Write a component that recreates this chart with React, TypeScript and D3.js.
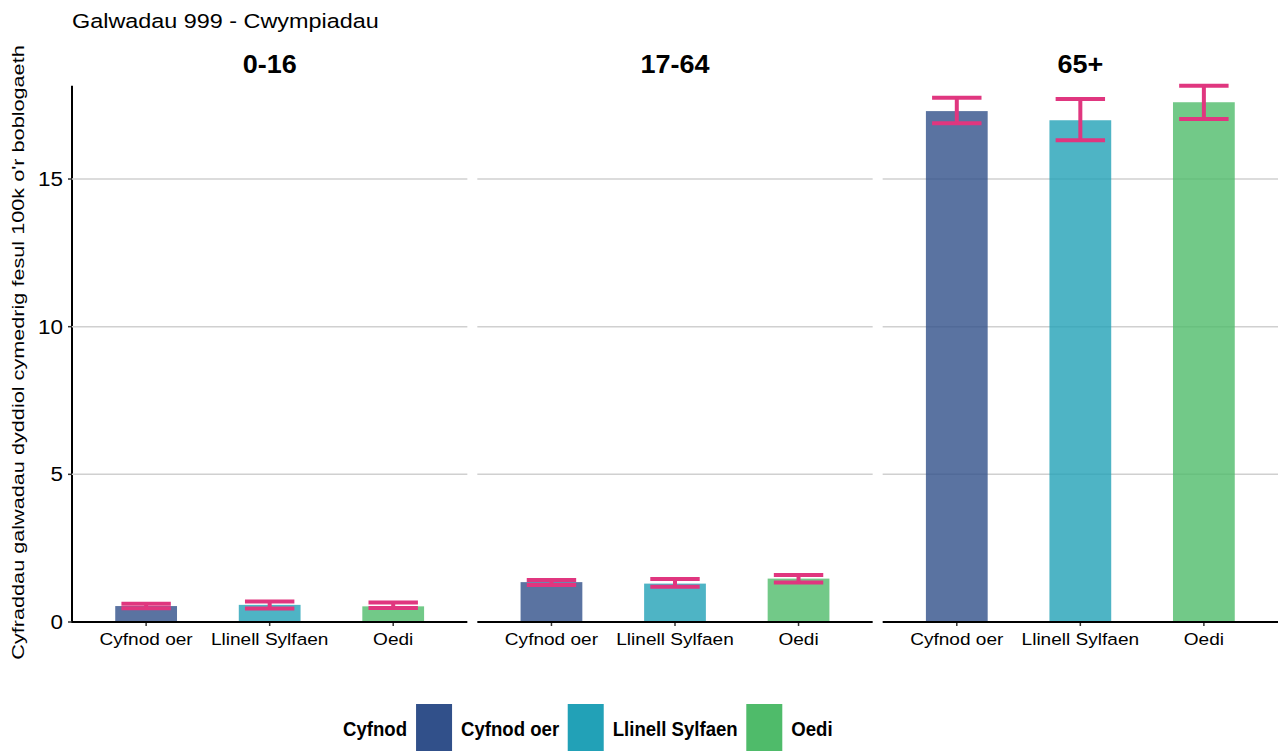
import * as d3 from "d3";

const ageGroups = ["0-16", "17-64", "65+"];
const periods = ["Cyfnod oer", "Llinell Sylfaen", "Oedi"];
const periodColors = ["#31508A", "#22A1B7", "#4FBB6A"];

// mean daily rate per 100k, one row per age group, columns follow `periods`
const meanRates = [
  [0.54, 0.58, 0.53],
  [1.35, 1.3, 1.47],
  [17.3, 16.99, 17.6],
];
const lowerCI = [
  [0.465, 0.46, 0.47],
  [1.25, 1.19, 1.34],
  [16.89, 16.31, 17.03],
];
const upperCI = [
  [0.62, 0.69, 0.66],
  [1.42, 1.46, 1.59],
  [17.75, 17.71, 18.16],
];
const yTicks = [0, 5, 10, 15];

const W = 1279;
const H = 751;
const FONT = "'Liberation Sans', Arial, Helvetica, sans-serif";
const panelLeft = 72;
const panelRight = 1278;
const panelGap = 10;
const plotTop = 85.7;
const plotBottom = 622;
const errColor = "#E0367F";

function SText({
  x,
  y,
  sx = 1,
  rotate = 0,
  size,
  weight = "normal",
  anchor = "start",
  children,
}: {
  x: number;
  y: number;
  sx?: number;
  rotate?: number;
  size: number;
  weight?: string;
  anchor?: string;
  children: any;
}) {
  return (
    <text
      transform={`translate(${x},${y}) rotate(${rotate}) scale(${sx},1)`}
      fontSize={size}
      fontWeight={weight}
      textAnchor={anchor}
      fontFamily={FONT}
      fill="#000"
    >
      {children}
    </text>
  );
}

function measure(text: string, font: string) {
  const c = document.createElement("canvas").getContext("2d");
  if (!c) return text.length * 10;
  c.font = font;
  return c.measureText(text).width;
}

export default function App() {
  const y = d3
    .scaleLinear()
    .domain([0, d3.max(upperCI.flat())!])
    .range([plotBottom, plotTop]);

  const step = (panelRight - panelLeft + panelGap) / 3;
  const panelX = d3
    .scaleBand<string>()
    .domain(ageGroups)
    .range([panelLeft, panelRight])
    .paddingInner(panelGap / step)
    .paddingOuter(0);
  const panelWidth = panelX.bandwidth();

  // ggplot-like discrete scale: 0.6 unit expansion each side
  const x = d3
    .scalePoint<string>()
    .domain(periods)
    .range([0, panelWidth])
    .padding(0.6);
  const unit = x.step();
  const barW = unit * 0.5;
  const capW = unit * 0.4;

  // legend layout
  const legSize = 20;
  const legSx = 0.93;
  const titleW = measure("Cyfnod", `bold ${legSize}px ${FONT}`) * legSx;
  let cursor = 343 + titleW + 9;
  const legendItems = periods.map((p, i) => {
    const kx = cursor;
    const tx = kx + 45;
    const tw = measure(p, `bold ${legSize}px ${FONT}`) * legSx;
    cursor = tx + tw + 8.5;
    return { p, kx, tx, color: periodColors[i] };
  });

  return (
    <div style={{ position: "absolute", left: 0, top: 0 }}>
      <svg width={W} height={H} style={{ display: "block", background: "#fff" }}>
        <SText x={72} y={28} size={19.5} sx={1.2}>
          Galwadau 999 - Cwympiadau
        </SText>
        <SText x={23.5} y={352.5} rotate={-90} size={16.3} sx={1.33} anchor="middle">
          Cyfraddau galwadau dyddiol cymedrig fesul 100k o'r boblogaeth
        </SText>

        {/* y axis */}
        <line x1={panelLeft} x2={panelLeft} y1={plotTop} y2={plotBottom + 1} stroke="#000" strokeWidth={2} />
        {yTicks.map((t) => (
          <g key={t}>
            <line x1={panelLeft - 4} x2={panelLeft} y1={y(t)} y2={y(t)} stroke="#333" strokeWidth={1.5} />
            <SText x={63} y={y(t) + 7} size={19.5} sx={1.15} anchor="end">
              {t}
            </SText>
          </g>
        ))}

        {ageGroups.map((age, ai) => {
          const px = panelX(age)!;
          return (
            <g key={age}>
              <SText x={px + panelWidth / 2} y={73} size={25} sx={1.08} weight="bold" anchor="middle">
                {age}
              </SText>
              {yTicks
                .filter((t) => t > 0)
                .map((t) => (
                  <line
                    key={t}
                    x1={px}
                    x2={px + panelWidth}
                    y1={y(t)}
                    y2={y(t)}
                    stroke="#D0D0D0"
                    strokeWidth={1.5}
                  />
                ))}
              {periods.map((p, pi) => {
                const cx = px + x(p)!;
                const v = meanRates[ai][pi];
                const lo = lowerCI[ai][pi];
                const hi = upperCI[ai][pi];
                return (
                  <g key={p}>
                    <rect
                      x={cx - barW / 2}
                      y={y(v)}
                      width={barW}
                      height={y(0) - y(v)}
                      fill={periodColors[pi]}
                      fillOpacity={0.8}
                    />
                    <g stroke={errColor} strokeWidth={4}>
                      <line x1={cx} x2={cx} y1={y(hi)} y2={y(lo)} />
                      <line x1={cx - capW / 2} x2={cx + capW / 2} y1={y(hi)} y2={y(hi)} />
                      <line x1={cx - capW / 2} x2={cx + capW / 2} y1={y(lo)} y2={y(lo)} />
                    </g>
                    <line x1={cx} x2={cx} y1={plotBottom} y2={plotBottom + 4} stroke="#333" strokeWidth={1.5} />
                    <SText x={cx} y={645} size={16.3} sx={1.17} anchor="middle">
                      {p}
                    </SText>
                  </g>
                );
              })}
              <line x1={px} x2={px + panelWidth} y1={plotBottom} y2={plotBottom} stroke="#000" strokeWidth={2} />
            </g>
          );
        })}

        {/* legend */}
        <SText x={343} y={736} size={legSize} sx={legSx} weight="bold">
          Cyfnod
        </SText>
        {legendItems.map((it) => (
          <g key={it.p}>
            <rect x={it.kx} y={704} width={36} height={48} fill={it.color} />
            <SText x={it.tx} y={736} size={legSize} sx={legSx} weight="bold">
              {it.p}
            </SText>
          </g>
        ))}
      </svg>
    </div>
  );
}
